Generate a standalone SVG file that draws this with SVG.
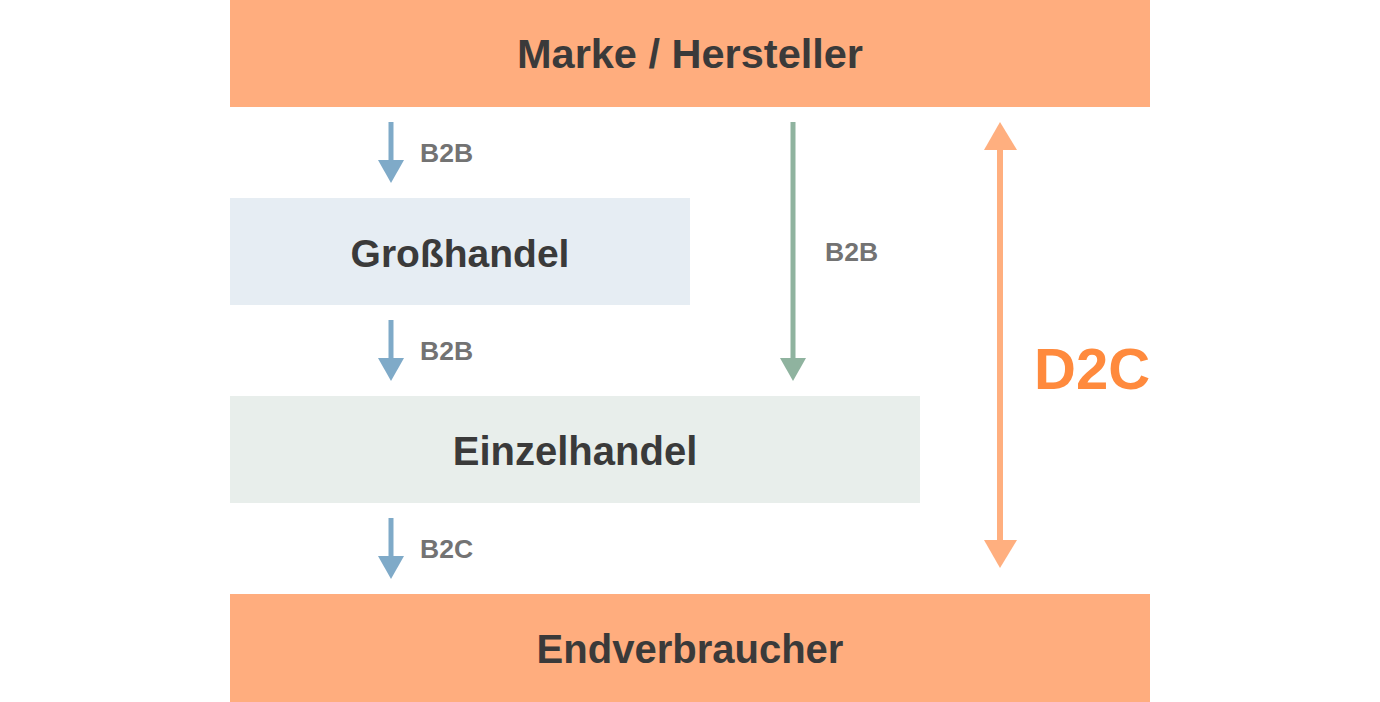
<svg xmlns="http://www.w3.org/2000/svg" width="1380" height="702" viewBox="0 0 1380 702">
<style>
.t{font-family:"Liberation Sans",Arial,sans-serif;font-weight:bold;fill:#3a3a3a;font-size:40px;text-anchor:middle}
.l{font-family:"Liberation Sans",Arial,sans-serif;font-weight:bold;fill:#737373;font-size:26.5px}
.blue{stroke:#7faac8;stroke-width:5;fill:none}
.green{stroke:#8fb39f;stroke-width:5;fill:none}
.orange{stroke:#ffaf7f;stroke-width:6;fill:none}
</style>
<rect width="1380" height="702" fill="#ffffff"/>
<g id="marke"><rect x="230" y="0" width="920" height="107" fill="#ffad7e"/><text class="t" x="690" y="68" style="font-size:41.5px">Marke / Hersteller</text></g>
<g id="grosshandel"><rect x="230" y="198" width="460" height="107" fill="#e6edf3"/><text class="t" x="460" y="267" style="font-size:39px">Großhandel</text></g>
<g id="einzelhandel"><rect x="230" y="396" width="690" height="107" fill="#e8eeeb"/><text class="t" x="575" y="465">Einzelhandel</text></g>
<g id="endverbraucher"><rect x="230" y="594" width="920" height="108" fill="#ffad7e"/><text class="t" x="690" y="663">Endverbraucher</text></g>
<g id="connectors">
<line class="blue" x1="391" y1="122" x2="391" y2="162"/><polygon points="378,160 404,160 391,183" fill="#7faac8"/>
<text class="l" x="420" y="162">B2B</text>
<line class="blue" x1="391" y1="320" x2="391" y2="360"/><polygon points="378,358 404,358 391,381" fill="#7faac8"/>
<text class="l" x="420" y="360">B2B</text>
<line class="blue" x1="391" y1="518" x2="391" y2="558"/><polygon points="378,556 404,556 391,579" fill="#7faac8"/>
<text class="l" x="420" y="558">B2C</text>
<line class="green" x1="793" y1="122" x2="793" y2="360"/><polygon points="780,358 806,358 793,381" fill="#8fb39f"/>
<text class="l" x="825" y="261">B2B</text>
<line class="orange" x1="1000" y1="145" x2="1000" y2="545"/>
<polygon points="984,150 1017,150 1000,122" fill="#ffaf7f"/>
<polygon points="984,540 1017,540 1000,568" fill="#ffaf7f"/>
<text x="1034" y="389" font-family="Liberation Sans,Arial,sans-serif" font-weight="bold" font-size="58" fill="#ff8a3d">D2C</text>
</g>
</svg>
